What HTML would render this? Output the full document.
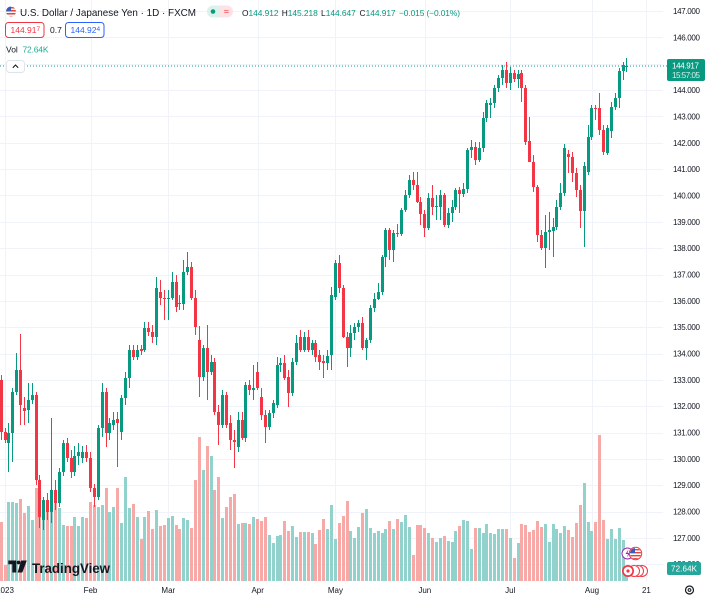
<!DOCTYPE html>
<html><head><meta charset="utf-8">
<style>
html,body{margin:0;padding:0;background:#fff;}
svg{display:block;font-family:"Liberation Sans",Arial,sans-serif;}
</style></head>
<body>
<svg id="s" width="710" height="600" viewBox="0 0 710 600" xmlns="http://www.w3.org/2000/svg">
<rect x="0" y="0" width="710" height="600" fill="#ffffff"/>
<g id="grid" stroke="#f0f3fa" stroke-width="1" shape-rendering="crispEdges"></g>
<g id="vol" shape-rendering="crispEdges"></g>
<g id="cdl" shape-rendering="crispEdges"></g>
<!-- price line -->
<line x1="0" y1="66" x2="668" y2="66" stroke="#089981" stroke-width="1" stroke-dasharray="1 2"/>

<!-- price axis labels -->
<g font-size="8" fill="#131722">
<text x="673" y="14" textLength="27">147.000</text>
<text x="673" y="40.5" textLength="27">146.000</text>
<text x="673" y="93" textLength="27">144.000</text>
<text x="673" y="119.5" textLength="27">143.000</text>
<text x="673" y="146" textLength="27">142.000</text>
<text x="673" y="172" textLength="27">141.000</text>
<text x="673" y="198.5" textLength="27">140.000</text>
<text x="673" y="225" textLength="27">139.000</text>
<text x="673" y="251" textLength="27">138.000</text>
<text x="673" y="277.5" textLength="27">137.000</text>
<text x="673" y="304" textLength="27">136.000</text>
<text x="673" y="330" textLength="27">135.000</text>
<text x="673" y="356.5" textLength="27">134.000</text>
<text x="673" y="383" textLength="27">133.000</text>
<text x="673" y="409" textLength="27">132.000</text>
<text x="673" y="435.5" textLength="27">131.000</text>
<text x="673" y="462" textLength="27">130.000</text>
<text x="673" y="488" textLength="27">129.000</text>
<text x="673" y="514.5" textLength="27">128.000</text>
<text x="673" y="541" textLength="27">127.000</text>
<text x="673" y="567" textLength="27">126.000</text>
</g>
<!-- last price label -->
<rect x="667" y="59" width="38" height="22" rx="2" fill="#089981"/>
<text x="672" y="68.5" font-size="8" fill="#fff" textLength="27">144.917</text>
<text x="672" y="78" font-size="8" fill="#d6f0ea" textLength="28">15:57:05</text>
<!-- volume label -->
<rect x="667" y="562" width="34" height="13" rx="2" fill="#26a69a"/>
<text x="671" y="571.5" font-size="8" fill="#fff" textLength="26">72.64K</text>

<!-- time axis -->
<g font-size="8" fill="#131722" text-anchor="middle">
<text x="5" y="593">2023</text>
<text x="90.5" y="593">Feb</text>
<text x="168.3" y="593">Mar</text>
<text x="257.7" y="593">Apr</text>
<text x="335.4" y="593">May</text>
<text x="424.8" y="593">Jun</text>
<text x="510.3" y="593">Jul</text>
<text x="592" y="593">Aug</text>
<text x="646.4" y="593">21</text>
</g>
<!-- gear -->
<circle cx="689.5" cy="590" r="4" fill="none" stroke="#131722" stroke-width="1.2"/>
<circle cx="689.5" cy="590" r="1.4" fill="none" stroke="#131722" stroke-width="1"/>

<!-- header -->
<defs><clipPath id="fc"><circle cx="11" cy="11.5" r="5"/></clipPath></defs>
<g clip-path="url(#fc)">
<rect x="5" y="6" width="12" height="12" fill="#f4f4f4"/>
<rect x="5" y="7" width="12" height="1.5" fill="#e0463c"/>
<rect x="5" y="10" width="12" height="1.5" fill="#e0463c"/>
<rect x="5" y="13" width="12" height="1.5" fill="#e0463c"/>
<rect x="5" y="16" width="12" height="1.5" fill="#e0463c"/>
<rect x="5" y="6" width="6" height="5" fill="#3b5bb5"/>
</g>
<text x="20" y="16" font-size="10.5" fill="#131722" textLength="176" lengthAdjust="spacingAndGlyphs">U.S. Dollar / Japanese Yen · 1D · FXCM</text>
<rect x="207" y="5.5" width="26" height="12" rx="6" fill="#fde3e5"/>
<path d="M213 5.5 h7 v12 h-7 a6 6 0 0 1 0 -12z" fill="#dcf1ec"/>
<circle cx="213" cy="11.5" r="2.3" fill="#089981"/>
<text x="226.5" y="14.5" font-size="9" fill="#f23645" text-anchor="middle">≈</text>
<g font-size="8.4">
<text x="242" y="16" fill="#131722">O</text><text x="248.5" y="16" fill="#089981" textLength="30">144.912</text>
<text x="281.7" y="16" fill="#131722">H</text><text x="287.8" y="16" fill="#089981" textLength="30">145.218</text>
<text x="321" y="16" fill="#131722">L</text><text x="325.8" y="16" fill="#089981" textLength="30">144.647</text>
<text x="359.5" y="16" fill="#131722">C</text><text x="365.6" y="16" fill="#089981" textLength="30">144.917</text>
<text x="399" y="16" fill="#089981" textLength="61">−0.015 (−0.01%)</text>
</g>
<rect x="5.5" y="22.5" width="38.5" height="15" rx="3" fill="#fff" stroke="#f23645" stroke-width="1"/>
<text x="10.5" y="33" font-size="8.5" fill="#f23645">144.91<tspan font-size="6.5" dy="-2">7</tspan></text>
<text x="50" y="33" font-size="8.5" fill="#131722">0.7</text>
<rect x="65.5" y="22.5" width="38.5" height="15" rx="3" fill="#fff" stroke="#2962ff" stroke-width="1"/>
<text x="70.5" y="33" font-size="8.5" fill="#2962ff">144.92<tspan font-size="6.5" dy="-2">4</tspan></text>
<text x="6" y="52.5" font-size="8.5" fill="#131722">Vol</text>
<text x="22.5" y="52.5" font-size="8.5" fill="#22ab94" textLength="26">72.64K</text>
<rect x="6.5" y="60.5" width="18" height="12" rx="3" fill="#fff" stroke="#e0e3eb" stroke-width="1"/>
<polyline points="12.8,67.8 15.5,65 18.2,67.8" fill="none" stroke="#131722" stroke-width="1.1"/>

<!-- TradingView logo -->
<polygon points="8.3,560.5 16.3,560.5 16.3,572.5 12.3,572.5 12.3,564.3 8.3,564.3" fill="#131722"/>
<circle cx="18.6" cy="562.5" r="1.9" fill="#131722"/>
<polygon points="21.2,560.5 26.8,560.5 22.3,572.5 17.6,572.5" fill="#131722"/>
<text x="32" y="573" font-size="14" font-weight="bold" fill="#131722" textLength="78" lengthAdjust="spacingAndGlyphs">TradingView</text>

<!-- bottom-right event icons -->
<circle cx="627.5" cy="553.5" r="5.5" fill="#fff" stroke="#9c27b0" stroke-width="1"/>
<path d="M628.5 549.5 l-3 4.5 h2.5 l-1 3.5 l3 -4.5 h-2.5z" fill="#9c27b0"/>
<defs><clipPath id="fc2"><circle cx="635.5" cy="553.5" r="5.5"/></clipPath></defs>
<circle cx="635.5" cy="553.5" r="6.2" fill="#fff" stroke="#f23645" stroke-width="1"/>
<g clip-path="url(#fc2)">
<rect x="629" y="548" width="13" height="12" fill="#fff"/>
<rect x="629" y="549" width="13" height="1.4" fill="#e0463c"/>
<rect x="629" y="552" width="13" height="1.4" fill="#e0463c"/>
<rect x="629" y="555" width="13" height="1.4" fill="#e0463c"/>
<rect x="629" y="558" width="13" height="1.4" fill="#e0463c"/>
<rect x="629" y="548" width="6" height="5" fill="#3b5bb5"/>
</g>
<circle cx="642" cy="571" r="5.5" fill="#fff" stroke="#f23645" stroke-width="1"/>
<circle cx="638" cy="571" r="5.5" fill="#fff" stroke="#f23645" stroke-width="1"/>
<circle cx="634" cy="571" r="5.5" fill="#fff" stroke="#f23645" stroke-width="1"/>
<circle cx="628" cy="571" r="6" fill="#f23645"/>
<circle cx="628" cy="571" r="4.3" fill="#fff"/>
<circle cx="628" cy="571" r="1.6" fill="#f23645"/>
</svg>
<script>
(function(){
var NS="http://www.w3.org/2000/svg";
function el(p,t,a){var e=document.createElementNS(NS,t);for(var k in a)e.setAttribute(k,a[k]);p.appendChild(e);return e;}
var grid=document.getElementById('grid'),vol=document.getElementById('vol'),cdl=document.getElementById('cdl');
// horizontal gridlines
for(var p=147;p>=126;p--){var y=Math.round(11+(147-p)*26.35)+0.5;el(grid,'line',{x1:0,y1:y,x2:663,y2:y});}
[5,90.5,168.3,257.7,335.4,424.8,510.3,592,646.4].forEach(function(x){var xx=Math.round(x)+0.5;el(grid,'line',{x1:xx,y1:0,x2:xx,y2:581});});
var C=[
[380,375,440,432],[432,428,443,440],[443,423,472,433],[433,388,462,392],[392,353,395,370],[370,334,425,405],
[408,397,425,411],[410,383,423,400],[400,383,404,395],[395,392,485,480],[480,475,528,517],[520,497,530,500],
[500,493,520,512],[512,418,523,490],[490,480,510,503],[503,468,507,472],[472,440,476,443],[443,438,462,458],
[458,450,478,472],[472,446,476,456],[456,443,465,452],[458,446,463,452],[452,445,462,458],[458,452,492,488],
[488,484,507,497],[497,425,500,428],[428,383,437,392],[392,388,447,433],[433,418,440,423],[425,412,430,420],
[419,412,467,423],[432,395,440,398],[398,372,405,378],[378,345,388,350],[350,345,360,357],[357,345,360,350],
[349,345,355,351],[350,322,352,328],[328,322,336,332],[332,325,343,337],[337,277,345,288],[292,280,305,298],
[298,290,320,299],[299,290,320,298],[298,272,300,282],[282,275,312,307],[303,295,310,304],[304,260,310,272],
[272,252,275,267],[267,262,300,298],[298,290,335,327],[340,326,397,377],[377,345,381,348],[348,325,400,372],
[372,355,375,362],[362,358,415,412],[412,405,445,425],[425,390,428,395],[395,392,428,425],[423,415,450,440],
[440,430,468,442],[447,412,452,420],[420,412,440,438],[438,382,442,385],[385,380,395,390],[390,365,400,388],
[372,362,390,388],[397,388,420,415],[415,410,443,427],[427,410,430,413],[413,400,418,403],[405,357,408,365],
[365,358,372,363],[363,355,380,378],[377,370,407,393],[393,358,396,362],[362,335,365,343],[337,330,352,350],
[350,332,352,337],[337,330,352,350],[350,340,355,343],[343,340,362,357],[355,350,370,362],[361,355,378,363],
[363,350,370,356],[355,287,370,295],[297,260,300,263],[263,255,293,288],[288,285,338,337],[337,332,367,348],
[348,325,357,333],[333,323,340,327],[327,320,332,323],[323,317,350,348],[348,338,360,340],[340,305,343,308],
[308,293,312,299],[299,283,300,292],[292,255,295,257],[257,228,267,230],[230,228,260,250],[250,230,262,233],
[233,224,237,234],[234,208,236,210],[210,190,212,195],[195,175,198,180],[180,172,190,185],[185,172,203,202],
[202,197,225,214],[214,210,237,228],[228,193,230,198],[198,185,215,207],[207,195,220,206],[207,190,220,195],
[195,193,227,225],[225,208,228,213],[213,200,222,207],[207,188,210,190],[190,187,213,194],[194,183,197,189],
[189,148,193,150],[150,140,158,147],[147,142,165,160],[160,142,162,148],[148,112,152,118],[118,100,122,103],
[105,98,118,103],[103,85,108,88],[88,75,92,78],[78,65,85,70],[70,62,88,83],[83,67,90,73],
[73,70,82,79],[79,70,88,74],[73,70,102,88],[88,85,145,142],[141,117,162,162],[162,155,192,187],
[187,185,242,235],[235,230,250,248],[248,215,268,232],[232,212,250,230],[231,218,257,227],[227,200,230,207],
[207,183,210,193],[193,144,196,148],[154,150,173,157],[157,152,182,173],[173,168,197,190],[190,185,228,211],
[211,162,247,166],[172,125,175,137],[137,105,140,108],[108,105,120,109],[108,93,135,130],[130,125,155,152],
[153,125,155,128],[131,102,138,107],[107,93,110,98],[98,68,108,71],[71,62,80,65],[66,58,72,66]
];
var V=[522,565,502,502,503,499,513,506,520,488,492,512,507,490,503,508,525,526,526,517,526,517,518,502,505,507,505,488,512,507,488,523,477,508,504,517,539,517,511,529,510,526,525,518,516,525,529,518,520,528,480,437,470,446,456,490,477,518,507,497,494,524,523,523,524,517,519,521,517,535,543,536,535,521,531,526,537,532,532,532,533,544,530,519,529,505,539,523,516,501,531,538,527,513,509,528,533,531,533,529,521,529,519,522,515,527,555,525,525,528,533,538,542,538,536,541,542,531,526,520,521,549,528,528,533,524,533,534,529,529,529,538,558,543,524,525,532,530,521,527,524,542,524,529,533,526,530,537,523,505,483,522,531,522,435,520,539,529,539,528,540,568];
var X0=5,DX=3.887;
for(var k=0;k<C.length;k++){
  var idx=k-1,xc=X0+idx*DX,c=C[k];
  var up=c[3]<=c[0];
  var xl=Math.round(xc-1.5);
  var vy=V[k];
  if(vy!==undefined){el(vol,'rect',{x:xl,y:vy,width:3,height:581-vy,fill:up?'#92d2cc':'#f7a9a7'});}
  var col=up?'#089981':'#f23645';
  el(cdl,'rect',{x:xl+1,y:c[1],width:1,height:Math.max(1,c[2]-c[1]),fill:col});
  var t=Math.min(c[0],c[3]),b=Math.max(c[0],c[3]);
  el(cdl,'rect',{x:xl,y:t,width:3,height:Math.max(1,b-t),fill:col});
}
})();
</script>
</body></html>
